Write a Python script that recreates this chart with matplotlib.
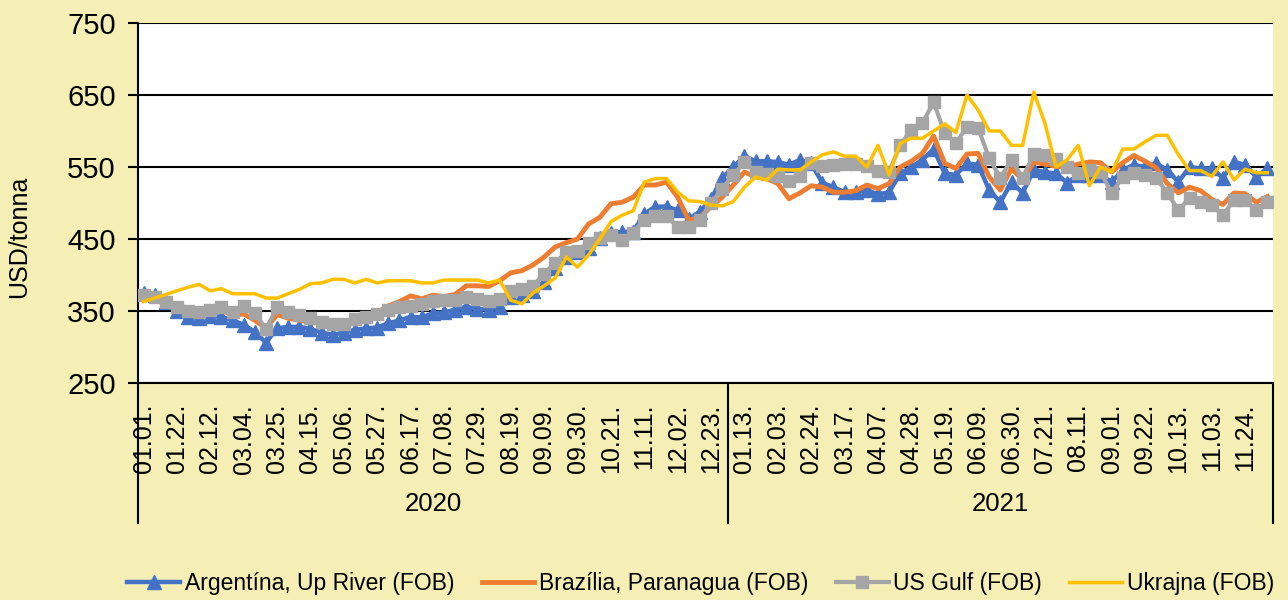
import numpy as np
import pandas as pd
import matplotlib
matplotlib.use("Agg")
import matplotlib.pyplot as plt
import matplotlib.transforms as mtransforms

plt.rcParams['font.family'] = ['Liberation Sans', 'DejaVu Sans']

# heti adatok 2020.01.01 - 2021.12.08 (szerdánként)
dates = pd.date_range('2020-01-01', periods=102, freq='7D')
years = ['2020', '2021']

argentina = [375, 372, 362, 350, 342, 340, 343, 342, 337, 331, 321, 306, 326, 328, 328, 325, 320, 317,
             320, 324, 326, 327, 333, 337, 342, 341, 347, 348, 352, 356, 353, 352, 355, 370, 372, 378,
             390, 410, 425, 432, 438, 452, 458, 460, 460, 485, 495, 495, 490, 478, 488, 505, 535, 550,
             565, 558, 558, 557, 553, 560, 555, 528, 522, 515, 515, 518, 512, 515, 541, 550, 560, 575,
             541, 539, 555, 553, 518, 501, 529, 514, 546, 543, 541, 528, 539, 539, 539, 529, 546, 553,
             550, 555, 546, 529, 550, 548, 548, 535, 557, 553, 536, 548]

brazil = [368, 365, 360, 355, 350, 347, 350, 352, 343, 346, 337, 326, 345, 340, 337, 335, 333, 332,
          333, 336, 340, 348, 357, 363, 371, 367, 372, 370, 373, 385, 385, 384, 392, 403, 406, 414,
          425, 439, 445, 450, 471, 480, 499, 501, 508, 525, 525, 529, 508, 476, 480, 495, 508, 525,
          543, 536, 534, 527, 506, 514, 524, 522, 515, 515, 517, 525, 520, 527, 550, 558, 569, 593,
          555, 548, 568, 569, 536, 518, 548, 532, 557, 554, 551, 550, 554, 557, 556, 543, 556, 566,
          558, 549, 527, 514, 522, 517, 505, 498, 514, 513, 501, 509]

us_gulf = [372, 370, 363, 356, 350, 349, 352, 355, 349, 357, 347, 325, 355, 349, 344, 340, 335, 332,
           332, 339, 342, 346, 351, 355, 357, 360, 364, 365, 365, 369, 366, 364, 366, 378, 380, 385,
           402, 417, 432, 434, 445, 451, 455, 448, 459, 477, 482, 482, 467, 467, 476, 500, 520, 539,
           557, 543, 540, 537, 530, 537, 555, 551, 553, 554, 554, 552, 544, 543, 581, 601, 611, 640,
           597, 583, 606, 604, 562, 535, 560, 535, 568, 567, 561, 550, 541, 546, 543, 514, 536, 541,
           539, 535, 514, 490, 507, 501, 497, 483, 504, 504, 490, 501]

ukraine = [363, 368, 373, 378, 383, 387, 378, 381, 374, 374, 374, 368, 368, 374, 380, 388, 389, 394,
           394, 389, 394, 389, 392, 392, 392, 389, 389, 393, 393, 393, 393, 389, 393, 365, 360, 375,
           385, 396, 425, 411, 428, 450, 474, 483, 489, 529, 534, 534, 515, 503, 502, 497, 496, 502,
           522, 536, 532, 547, 546, 546, 557, 567, 571, 565, 565, 550, 580, 539, 583, 590, 590, 600,
           610, 598, 650, 629, 600, 600, 580, 580, 654, 611, 550, 560, 580, 524, 550, 543, 575, 575,
           585, 594, 594, 567, 545, 545, 537, 557, 532, 547, 542, 542]

series_names = ['Argentína, Up River (FOB)', 'Brazília, Paranagua (FOB)', 'US Gulf (FOB)', 'Ukrajna (FOB)']

bg = '#F5EFB5'
fig = plt.figure(figsize=(12.88, 6), dpi=100, facecolor=bg)
ax = fig.add_axes([138 / 1288, 217 / 600, 1135 / 1288, 360 / 600])
ax.set_facecolor('white')

x = np.arange(len(dates))
ax.plot(x, argentina, color='#4472C4', lw=3.2, marker='^', ms=10.5, label=series_names[0], zorder=3)
ax.plot(x, brazil, color='#ED7D31', lw=3.5, label=series_names[1], zorder=4)
ax.plot(x, us_gulf, color='#A5A5A5', lw=3.0, marker='s', ms=8.5, label=series_names[2], zorder=5)
ax.plot(x, ukraine, color='#FFC000', lw=2.5, label=series_names[3], zorder=6)

ax.set_xlim(-0.5, len(dates) - 0.5)
ax.set_ylim(250, 750)
ax.set_yticks(np.arange(250, 751, 100))
ax.grid(axis='y', color='black', lw=1.5, zorder=1)
ax.tick_params(axis='y', length=7, width=1.5, labelsize=21, pad=9)

ticks = x[::3]
ax.set_xticks(ticks)
ax.set_xticklabels([d.strftime('%m.%d.') for d in dates[::3]], rotation=90, fontsize=18)
ax.tick_params(axis='x', length=0, pad=15)

for s in ['top', 'right']:
    ax.spines[s].set_visible(False)
ax.spines['left'].set_linewidth(1.5)
ax.spines['bottom'].set_linewidth(1.5)

ax.set_ylabel('USD/tonna', fontsize=18)
ax.yaxis.set_label_coords(-0.094, 0.405)

# kétszintű kategória tengely (évek)
trans = mtransforms.blended_transform_factory(ax.transData, ax.transAxes)
n2020 = sum(d.year == 2020 for d in dates)
for xb in [-0.5, n2020 - 0.5, len(dates) - 0.5]:
    ax.plot([xb, xb], [0, -0.389], color='black', lw=1.5, transform=trans, clip_on=False)
ax.text((n2020 - 1) / 2, -0.335, years[0], transform=trans, ha='center', va='center', fontsize=18.5)
ax.text((n2020 + len(dates) - 1) / 2, -0.335, years[1], transform=trans, ha='center', va='center', fontsize=18.5)

fig.legend(loc='center', bbox_to_anchor=(0.544, 0.028), ncol=4, frameon=False, fontsize=16.5,
           handlelength=2.3, handletextpad=0.2, columnspacing=1.2)

fig.savefig('out.png', dpi=100, facecolor=bg)
